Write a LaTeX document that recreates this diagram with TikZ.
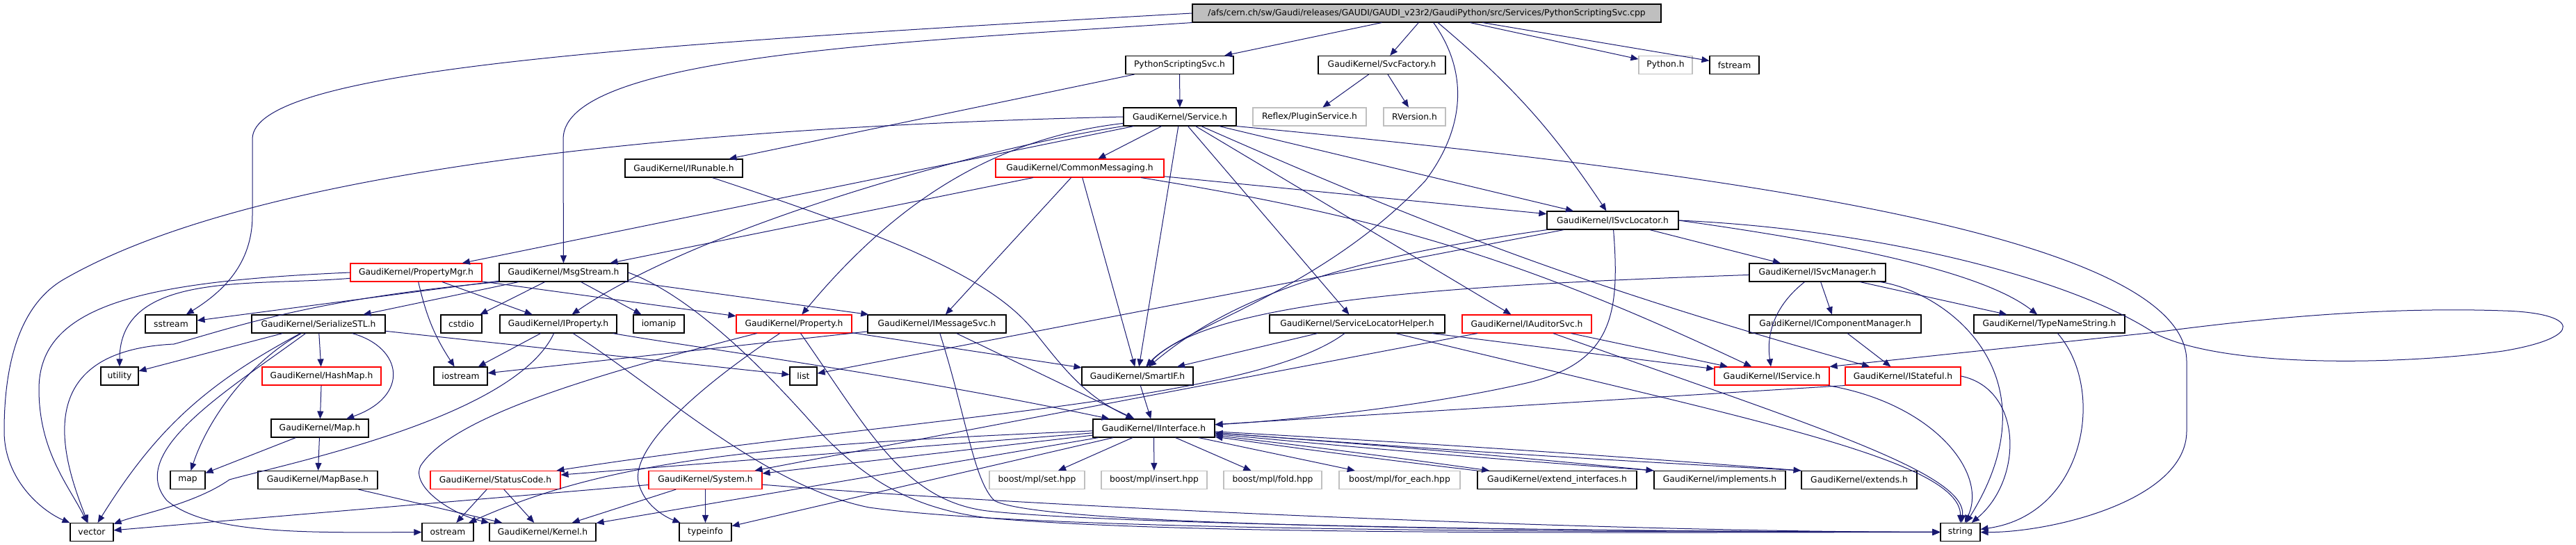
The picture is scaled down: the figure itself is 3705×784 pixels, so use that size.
\documentclass[tikz,border=0pt]{standalone}
\usepackage{fontspec}
\setmainfont{DejaVu Sans}
\usetikzlibrary{positioning,arrows.meta}
\definecolor{edgeblue}{RGB}{25,25,112}
\definecolor{boxgray}{RGB}{191,191,191}

\begin{document}
\begin{tikzpicture}[x=1pt,y=-1pt,node distance=100pt,on grid,>={Triangle[length=11pt,width=9pt]},
	every node/.style={font=\fontsize{12.3pt}{15pt}\selectfont},
	inc/.style={draw=black,line width=1.1pt,minimum width=#1pt,minimum height=26pt,inner sep=0pt},
	incred/.style={inc=#1,draw=red},
	incgray/.style={inc=#1,draw=boxgray},
	src/.style={inc=#1,fill=boxgray},
	dep/.style={->,color=edgeblue,line width=1pt}]
	\useasboundingbox (0,0) rectangle (3705,784);

	\node[src=674] (cpp) at (2052,19) {/afs/cern.ch/sw/Gaudi/releases/GAUDI/GAUDI\_v23r2/GaudiPython/src/Services/PythonScriptingSvc.cpp};

	\node[inc=155] (pss_h) at (1696.5,93.5) {PythonScriptingSvc.h};
	\node[inc=183] (svcfac_h) [right=291pt of pss_h] {GaudiKernel/SvcFactory.h};
	\node[incgray=77] (python_h) [right=408pt of svcfac_h] {Python.h};
	\node[inc=71] (fstream) [right=99pt of python_h] {fstream};

	\node[inc=162] (svc_h) at (1697,168) {GaudiKernel/Service.h};
	\node[incgray=163] (plugin_h) [right=186.5pt of svc_h] {Reflex/PluginService.h};
	\node[incgray=89] (rversion_h) [right=151pt of plugin_h] {RVersion.h};

	\node[inc=169] (irunable_h) at (983.5,242) {GaudiKernel/IRunable.h};
	\node[incred=242] (commsg_h) [right=569.5pt of irunable_h] {GaudiKernel/CommonMessaging.h};

	\node[inc=189] (isvcloc_h) at (2319.5,317) {GaudiKernel/ISvcLocator.h};

	\node[incred=189] (propmgr_h) at (598.5,392) {GaudiKernel/PropertyMgr.h};
	\node[inc=185] (msgstream_h) [right=212pt of propmgr_h] {GaudiKernel/MsgStream.h};
	\node[inc=196] (isvcmgr_h) [right=1803.5pt of msgstream_h] {GaudiKernel/ISvcManager.h};

	\node[inc=74] (sstream) at (246,466) {sstream};
	\node[inc=192] (serial_h) [right=212pt of sstream] {GaudiKernel/SerializeSTL.h};
	\node[inc=59] (cstdio) [right=205.5pt of serial_h] {cstdio};
	\node[inc=168] (iprop_h) [right=139.5pt of cstdio] {GaudiKernel/IProperty.h};
	\node[inc=73] (iomanip) [right=144.5pt of iprop_h] {iomanip};
	\node[incred=166] (prop_h) [right=194.5pt of iomanip] {GaudiKernel/Property.h};
	\node[inc=199] (imsgsvc_h) [right=205.5pt of prop_h] {GaudiKernel/IMessageSvc.h};
	\node[inc=252] (slochelp_h) [right=604.5pt of imsgsvc_h] {GaudiKernel/ServiceLocatorHelper.h};
	\node[incred=186] (iaudit_h) [right=244pt of slochelp_h] {GaudiKernel/IAuditorSvc.h};
	\node[inc=247] (icompmgr_h) [right=443.5pt of iaudit_h] {GaudiKernel/IComponentManager.h};
	\node[inc=217] (typename_h) [right=308pt of icompmgr_h] {GaudiKernel/TypeNameString.h};

	\node[inc=54] (utility) at (172,541) {utility};
	\node[incred=171] (hashmap_h) [right=290.5pt of utility] {GaudiKernel/HashMap.h};
	\node[inc=77] (iostream) [right=200pt of hashmap_h] {iostream};
	\node[inc=39] (list) [right=493pt of iostream] {list};
	\node[inc=160] (smartif_h) [right=480.5pt of list] {GaudiKernel/SmartIF.h};
	\node[incred=165] (iservice_h) [right=912.5pt of smartif_h] {GaudiKernel/IService.h};
	\node[incred=166] (istateful_h) [right=188.5pt of iservice_h] {GaudiKernel/IStateful.h};

	\node[inc=140] (map_h) at (460,616) {GaudiKernel/Map.h};
	\node[inc=175] (iiface_h) [right=1199.5pt of map_h] {GaudiKernel/IInterface.h};

	\node[inc=50] (map) at (270,690.5) {map};
	\node[inc=172] (mapbase_h) [right=187pt of map] {GaudiKernel/MapBase.h};
	\node[incred=187] (status_h) [right=255.5pt of mapbase_h] {GaudiKernel/StatusCode.h};
	\node[incred=163] (system_h) [right=302pt of status_h] {GaudiKernel/System.h};
	\node[incgray=137] (set_hpp) [right=477pt of system_h] {boost/mpl/set.hpp};
	\node[incgray=152] (insert_hpp) [right=168.5pt of set_hpp] {boost/mpl/insert.hpp};
	\node[incgray=141] (fold_hpp) [right=170.5pt of insert_hpp] {boost/mpl/fold.hpp};
	\node[incgray=174] (foreach_hpp) [right=182.5pt of fold_hpp] {boost/mpl/for\_each.hpp};
	\node[inc=229] (extif_h) [right=226.5pt of foreach_hpp] {GaudiKernel/extend\_interfaces.h};
	\node[inc=189] (implements_h) [right=234pt of extif_h] {GaudiKernel/implements.h};
	\node[inc=166] (extends_h) [right=200.5pt of implements_h] {GaudiKernel/extends.h};

	\node[inc=62] (vector) at (132,765.5) {vector};
	\node[inc=74] (ostream) [right=512pt of vector] {ostream};
	\node[inc=153] (kernel_h) [right=136.5pt of ostream] {GaudiKernel/Kernel.h};
	\node[inc=75] (typeinfo) [right=234pt of kernel_h] {typeinfo};
	\node[inc=57] (string) [right=1805pt of typeinfo] {string};

	\path[dep]
	(cpp) edge (pss_h)
	(cpp) edge (svcfac_h)
	(cpp) edge (python_h)
	(cpp) edge (fstream)
	(cpp) edge [bend left=8] (isvcloc_h)
	(pss_h) edge (svc_h)
	(pss_h) edge (irunable_h)
	(svcfac_h) edge (plugin_h)
	(svcfac_h) edge (rversion_h);
	\draw[dep] (cpp.west) .. controls (900,65) and (363,100) .. (363,200) -- (363,310) .. controls (363,380) and (320,420) .. (sstream);
	\draw[dep] (cpp.south west) .. controls (1300,60) and (810,80) .. (810,200) -- (msgstream_h);
	\draw[dep] (cpp) .. controls (2110,100) and (2110,180) .. (2050,260) .. controls (1900,420) and (1700,470) .. (smartif_h);

	\path[dep]
	(svc_h) edge (commsg_h)
	(svc_h) edge (propmgr_h)
	(svc_h) edge (smartif_h)
	(svc_h) edge (slochelp_h)
	(svc_h) edge (iaudit_h)
	(svc_h) edge [bend right=4] (istateful_h)
	(svc_h) edge (isvcloc_h);
	\draw[dep] (svc_h.west) .. controls (900,185) and (350,255) .. (95,400) .. controls (25,438) and (6,530) .. (6,620) .. controls (6,690) and (60,735) .. (vector);
	\draw[dep] (svc_h.south west) .. controls (1400,215) and (1000,330) .. (iprop_h);
	\draw[dep] (svc_h) .. controls (1420,200) and (1280,300) .. (prop_h);
	\draw[dep] (svc_h.south east) .. controls (2500,250) and (3145,340) .. (3145,520) -- (3145,620) .. controls (3145,720) and (2950,766) .. (string);

	\path[dep]
	(commsg_h) edge (msgstream_h)
	(commsg_h) edge (imsgsvc_h)
	(commsg_h) edge (smartif_h)
	(commsg_h) edge (isvcloc_h)
	(commsg_h) edge [bend left=8] (iservice_h);
	\draw[dep] (irunable_h) .. controls (1280,340) and (1430,400) .. (1490,480) .. controls (1530,530) and (1560,570) .. (iiface_h);

	\path[dep]
	(propmgr_h) edge [out=185,in=90] (utility)
	(propmgr_h) edge [bend right=10] (iostream)
	(propmgr_h) edge (iprop_h)
	(propmgr_h) edge (prop_h);
	\draw[dep] (propmgr_h.west) .. controls (200,405) and (56,440) .. (56,560) .. controls (56,650) and (100,700) .. (vector);

	\path[dep]
	(msgstream_h) edge (sstream)
	(msgstream_h) edge (serial_h)
	(msgstream_h) edge (cstdio)
	(msgstream_h) edge (iomanip)
	(msgstream_h) edge (imsgsvc_h);
	\draw[dep] (msgstream_h.south west) .. controls (450,430) and (340,470) .. (250,495) .. controls (40,505) and (90,660) .. (vector);
	\draw[dep] (msgstream_h.east) .. controls (980,420) and (1070,500) .. (1160,600) .. controls (1230,680) and (1300,730) .. (1420,745) .. controls (1700,770) and (2300,766) .. (string);

	\path[dep]
	(serial_h) edge (utility)
	(serial_h) edge [bend right=15] (vector)
	(serial_h) edge (hashmap_h)
	(serial_h) edge (list);
	\draw[dep] (serial_h) .. controls (360,520) and (300,600) .. (map);
	\draw[dep] (serial_h) .. controls (580,500) and (590,570) .. (map_h);
	\draw[dep] (serial_h) .. controls (330,560) and (180,650) .. (240,720) .. controls (300,770) and (450,766) .. (ostream);

	\path[dep]
	(hashmap_h) edge (map_h)
	(map_h) edge (map)
	(map_h) edge (mapbase_h)
	(mapbase_h) edge (kernel_h);

	\path[dep]
	(iprop_h) edge (iostream);
	\draw[dep] (iprop_h) .. controls (740,600) and (420,665) .. (330,690) .. controls (280,725) and (200,740) .. (vector);
	\draw[dep] (iprop_h) .. controls (1000,500) and (1300,540) .. (iiface_h);
	\draw[dep] (iprop_h) .. controls (950,560) and (1100,700) .. (1250,730) .. controls (1500,765) and (2300,765) .. (string);

	\path[dep]
	(prop_h) edge (smartif_h);
	\draw[dep] (prop_h) .. controls (1000,560) and (900,650) .. (920,700) .. controls (930,730) and (960,745) .. (typeinfo);
	\draw[dep] (prop_h) .. controls (850,540) and (650,600) .. (605,670) .. controls (590,700) and (650,740) .. (kernel_h.north west);
	\draw[dep] (prop_h) .. controls (1250,620) and (1300,720) .. (1420,735) .. controls (1600,755) and (2300,765) .. (string);

	\path[dep]
	(imsgsvc_h) edge (iiface_h)
	(imsgsvc_h) edge (iostream);
	\draw[dep] (imsgsvc_h) .. controls (1390,600) and (1400,690) .. (1430,720) .. controls (1500,760) and (2300,764) .. (string);

	\path[dep]
	(slochelp_h) edge (smartif_h)
	(slochelp_h) edge (iservice_h);
	\draw[dep] (slochelp_h) .. controls (1800,580) and (1300,600) .. (status_h);
	\draw[dep] (slochelp_h) .. controls (2500,600) and (2820,660) .. (string);

	\path[dep]
	(iaudit_h) edge (iservice_h)
	(iaudit_h) edge (system_h);
	\draw[dep] (iaudit_h) .. controls (2600,610) and (2830,680) .. (string);

	\path[dep]
	(isvcloc_h) edge (isvcmgr_h)
	(isvcloc_h) edge (list);
	\draw[dep] (isvcloc_h) .. controls (1950,370) and (1780,420) .. (smartif_h);
	\draw[dep] (isvcloc_h) .. controls (2330,450) and (2320,520) .. (2200,550) .. controls (2050,585) and (1850,605) .. (iiface_h);
	\draw[dep] (isvcloc_h.east) .. controls (2650,350) and (2850,390) .. (typename_h);
	\draw[dep] (isvcloc_h.east) .. controls (2700,330) and (2980,400) .. (3100,480) .. controls (3200,530) and (3450,525) .. (3600,505) .. controls (3720,485) and (3710,450) .. (3600,447) .. controls (3400,440) and (3200,465) .. (3100,478) -- (iservice_h.north east);

	\path[dep]
	(isvcmgr_h) edge [bend right=30] (iservice_h)
	(isvcmgr_h) edge (icompmgr_h)
	(isvcmgr_h) edge (typename_h)
	(icompmgr_h) edge (istateful_h);
	\draw[dep] (isvcmgr_h) .. controls (2100,410) and (1740,430) .. (smartif_h);
	\draw[dep] (isvcmgr_h) .. controls (2800,420) and (2960,540) .. (string);

	\draw[dep] (typename_h) .. controls (3030,560) and (3000,740) .. (string);
	\draw[dep] (iservice_h) .. controls (2780,580) and (2860,680) .. (string);
	\draw[dep] (istateful_h.east) .. controls (2910,560) and (2910,690) .. (string);
	\path[dep]
	(istateful_h.south west) edge (iiface_h)
	(smartif_h) edge (iiface_h);

	\path[dep]
	(iiface_h) edge (status_h)
	(iiface_h) edge (system_h)
	(iiface_h) edge (typeinfo)
	(iiface_h) edge (kernel_h)
	(iiface_h) edge (set_hpp)
	(iiface_h) edge (insert_hpp)
	(iiface_h) edge (fold_hpp)
	(iiface_h) edge (foreach_hpp)
	(iiface_h) edge [bend left=0.6] (extif_h)
	(iiface_h) edge [bend left=0.6] (implements_h.north west)
	(iiface_h) edge [bend left=0.6] (extends_h.north west)
	(extif_h) edge [bend left=0.6] (iiface_h)
	(implements_h.north west) edge [bend left=0.6] (iiface_h)
	(extends_h.north west) edge [bend left=0.6] (iiface_h);
	\draw[dep] (iiface_h) .. controls (1100,640) and (880,660) .. (ostream);

	\path[dep]
	(status_h) edge (ostream)
	(status_h) edge (kernel_h)
	(system_h) edge (typeinfo)
	(system_h) edge (vector)
	(system_h) edge (kernel_h);
	\draw[dep] (system_h) .. controls (1500,730) and (2300,765) .. (string);
\end{tikzpicture}
\end{document}
